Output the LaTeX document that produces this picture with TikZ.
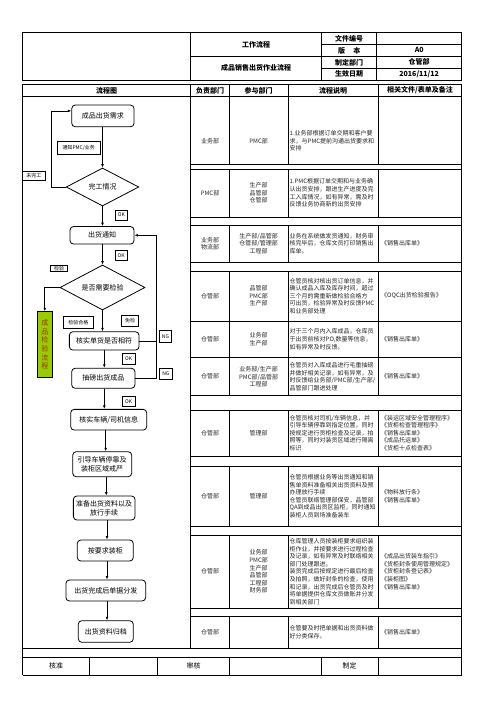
\documentclass[tikz,border=0pt]{standalone}
\usepackage{fontspec}
\setmainfont{Noto Sans CJK SC}
\usetikzlibrary{arrows.meta,shapes.geometric}
\definecolor{qcgreen}{RGB}{153,204,0}
\definecolor{qcred}{RGB}{160,50,0}
\begin{document}
\begin{tikzpicture}[x=1pt,y=-1pt]
\tikzset{
 fbox/.style={draw, line width=0.8pt, rounded corners=3.5pt, align=center, inner sep=0pt, font=\fontsize{7pt}{9pt}\selectfont},
 dmd/.style={draw, diamond, line width=0.8pt, inner sep=0pt, aspect=2, font=\fontsize{7pt}{9pt}\selectfont},
 lbl/.style={draw, line width=0.6pt, fill=white, inner sep=0pt, font=\fontsize{5pt}{6pt}\selectfont},
 arr/.style={line width=0.7pt, -{Latex[length=3.5pt,width=2.8pt]}},
 ln/.style={line width=0.7pt},
 tb/.style={line width=0.8pt},
 cell/.style={inner sep=0pt, align=center, font=\fontsize{6pt}{7.6pt}\selectfont, text=black!85},
 desc/.style={inner sep=0pt, align=left, anchor=west, font=\fontsize{6pt}{7.6pt}\selectfont, text=black!85},
 hd/.style={inner sep=0pt, font=\bfseries\fontsize{7pt}{8pt}\selectfont},
 ft/.style={inner sep=0pt, font=\fontsize{7pt}{8pt}\selectfont},
}
\useasboundingbox[fill=white] (0,0) rectangle (496,702);

% ---------- top header table ----------
\draw[tb] (22.7,32.7) rectangle (461.7,80);
\draw[tb] (190.7,32.7) -- (190.7,80) (321.7,32.7) -- (321.7,80) (376.7,32.7) -- (376.7,80);
\draw[tb] (190.7,56.35) -- (461.7,56.35);
\draw[tb] (321.7,44.5) -- (461.7,44.5) (321.7,68.2) -- (461.7,68.2);
\node[hd] (h1) at (256.2,44.5) {工作流程};
\node[hd] (h2) at (256.2,68.2) {成品销售出货作业流程};
\node[hd] (h3) at (349.2,38.6) {文件编号};
\node[hd] (h4) at (349.2,50.4) {版\hspace{1.2em}本};
\node[hd] (h5) at (349.2,62.3) {制定部门};
\node[hd] (h6) at (349.2,74.1) {生效日期};
\node[hd] (h7) at (419.2,50.4) {A0};
\node[hd] (h8) at (419.2,62.3) {仓管部};
\node[hd] (h9) at (419.2,74.1) {2016/11/12};

% ---------- column header ----------
\draw[tb] (22.7,84) rectangle (461.7,96.7);
\draw[tb] (190.7,84) -- (190.7,96.7) (229.3,84) -- (229.3,96.7) (288,84) -- (288,96.7) (378.3,84) -- (378.3,96.7);
\node[hd] (c1) at (106.7,90.4) {流程图};
\node[hd] (c2) at (210,90.4) {负责部门};
\node[hd] (c3) at (258.6,90.4) {参与部门};
\node[hd] (c4) at (333.1,90.4) {流程说明};
\node[hd] (c5) at (420,90.4) {相关文件/表单及备注};

% ---------- main body frame ----------
\draw[tb] (22.7,96.7) -- (22.7,675) (461.7,96.7) -- (461.7,675);
\draw[tb] (190.7,96.7) -- (190.7,648);
\draw[tb] (22.7,648) -- (461.7,648);
% rows (top,bottom)
\foreach \a/\b in {96.7/164,169/217.3,225/262.3,271/321,321/357.7,357.7/395.7,410/456,466/526.7,535/608.3,616.7/648}{
  \draw[tb] (190.7,\a) -- (461.7,\a) (190.7,\b) -- (461.7,\b);
  \draw[tb] (229.3,\a) -- (229.3,\b) (288,\a) -- (288,\b) (378.3,\a) -- (378.3,\b);
}
% footer
\draw[tb] (22.7,657.3) -- (461.7,657.3) (22.7,675) -- (461.7,675);
\draw[tb] (89.3,657.3) -- (89.3,675) (157.7,657.3) -- (157.7,675) (229.3,657.3) -- (229.3,675) (321,657.3) -- (321,675) (378.3,657.3) -- (378.3,675);
\node[ft] (f1) at (56,666.2) {核准};
\node[ft] (f2) at (193.5,666.2) {审核};
\node[ft] (f3) at (349.7,666.2) {制定};

% ---------- table contents ----------
% R1
\node[cell] (r1a) at (210,141) {业务部};
\node[cell] (r1b) at (258.6,141) {PMC部};
\node[desc] (r1c) at (289.5,141) {1.业务部根据订单交期和客户要\\求，与PMC提前沟通出货要求和\\安排};
% R2
\node[cell] (r2a) at (210,193) {PMC部};
\node[cell] (r2b) at (258.6,193) {生产部\\品管部\\仓管部};
\node[desc] (r2c) at (289.5,193) {1.PMC根据订单交期和与业务确\\认出货安排，跟进生产进度及完\\工入库情况，如有异常，需及时\\反馈业务协商新的出货安排};
% R3
\node[cell] (r3a) at (210,243.6) {业务部\\物流部};
\node[cell] (r3b) at (258.6,243.6) {生产部/品管部\\仓管部/管理部\\工程部};
\node[desc] (r3c) at (289.5,243.6) {业务在系统做发货通知，财务审\\核完毕后，仓库文员打印销售出\\库单。};
\node[desc] (r3d) at (381,243.6) {《销售出库单》};
% R4
\node[cell] (r4a) at (210,296) {仓管部};
\node[cell] (r4b) at (258.6,296) {品管部\\PMC部\\生产部};
\node[desc] (r4c) at (289.5,296) {仓管员核对核出货订单信息，并\\确认成品入库及库存时间，超过\\三个月的需重新做检验合格方\\可出货，检验异常及时反馈PMC\\和业务部处理};
\node[desc] (r4d) at (381,296) {《OQC出货检验报告》};
% R5
\node[cell] (r5a) at (210,339.3) {仓管部};
\node[cell] (r5b) at (258.6,339.3) {业务部\\生产部};
\node[desc] (r5c) at (289.5,339.3) {对于三个月内入库成品，仓库员\\于出货前核对PO,数量等信息，\\如有异常及时反馈。};
\node[desc] (r5d) at (381,339.3) {《销售出库单》};
% R6
\node[cell] (r6a) at (210,376.7) {仓管部};
\node[cell] (r6b) at (258.6,376.7) {业务部/生产部\\PMC部/品管部\\工程部};
\node[desc] (r6c) at (289.5,376.7) {仓管员对入库成品进行毛重抽磅\\并做好相关记录，如有异常，及\\时反馈给业务部/PMC部/生产部/\\品管部门跟进处理};
\node[desc] (r6d) at (381,376.7) {《销售出库单》};
% R7
\node[cell] (r7a) at (210,433) {仓管部};
\node[cell] (r7b) at (258.6,433) {管理部};
\node[desc] (r7c) at (289.5,433) {仓管员核对司机/车辆信息，并\\引导车辆停靠到指定位置，同时\\按规定进行货柜检查及记录，拍\\照等，同时对装货区域进行隔离\\标识};
\node[desc] (r7d) at (381,433) {《装运区域安全管理程序》\\《货柜检查管理程序》\\《销售出库单》\\《成品托运单》\\《货柜十点检查表》};
% R8
\node[cell] (r8a) at (210,496.3) {仓管部};
\node[cell] (r8b) at (258.6,496.3) {管理部};
\node[desc] (r8c) at (289.5,496.3) {仓管员根据业务等出货通知和销\\售单资料准备相关出货资料及预\\办理放行手续\\仓管员联络管理部保安，品管部\\QA到成品出货区监柜，同时通知\\装柜人员到场准备装车};
\node[desc] (r8d) at (381,496.3) {《物料放行条》\\《销售出库单》};
% R9
\node[cell] (r9a) at (210,571.6) {仓管部};
\node[cell] (r9b) at (258.6,571.6) {业务部\\PMC部\\生产部\\品管部\\工程部\\财务部};
\node[desc] (r9c) at (289.5,571.6) {仓库管理人员按装柜要求组织装\\柜作业，并按要求进行过程检查\\及记录，如有异常及时联络相关\\部门处理跟进。\\装货完成后按规定进行最后检查\\及拍照，做好封条的检查，使用\\和记录，出货完成后仓管员及时\\将单据提供仓库文员做账并分发\\到相关部门};
\node[desc] (r9d) at (381,571.6) {《成品出货装车指引》\\《货柜封条使用管理规定》\\《货柜封条登记表》\\《装柜图》\\《销售出库单》};
% R10
\node[cell] (r10a) at (210,632.3) {仓管部};
\node[desc] (r10c) at (289.5,632.3) {仓管要及时把单据和出货资料做\\好分类保存。};
\node[desc] (r10d) at (381,632.3) {《销售出库单》};

% ---------- flowchart ----------
\node[fbox, minimum width=62.3pt, minimum height=21.7pt] (req) at (102.9,115.9) {成品出货需求};
\node[dmd, minimum width=72.6pt, minimum height=38pt] (d1) at (102.5,187) {完工情况};
\node[fbox, minimum width=64pt, minimum height=17.5pt] (notice) at (102,235.3) {出货通知};
\node[dmd, minimum width=85pt, minimum height=45pt] (d2) at (102.5,287.5) {是否需要检验};
\node[fbox, minimum width=69.7pt, minimum height=18.3pt] (check) at (104.2,340.9) {核实单货是否相符};
\node[fbox, minimum width=63.3pt, minimum height=20pt] (weigh) at (103.3,378.3) {抽磅出货成品};
\node[fbox, minimum width=76pt, minimum height=20.7pt] (veh) at (108.7,419.7) {核实车辆/司机信息};
\node[fbox, minimum width=59pt, minimum height=25pt] (guide) at (102.2,464.2) {引导车辆停靠及\\装柜区域戒严};
\node[fbox, minimum width=61.7pt, minimum height=24pt] (prep) at (104.2,508) {准备出货资料以及\\放行手续};
\node[fbox, minimum width=56pt, minimum height=21pt] (load) at (105.3,550.5) {按要求装柜};
\node[fbox, minimum width=79.7pt, minimum height=21pt] (dist) at (105.8,590.5) {出货完成后单据分发};
\node[fbox, minimum width=55pt, minimum height=21.6pt] (arch) at (105.8,631.5) {出货资料归档};
\node[draw, line width=0.8pt, fill=qcgreen, text=qcred, inner sep=0pt, minimum width=15pt, minimum height=65.6pt, align=center, font=\fontsize{7pt}{8.7pt}\selectfont] (green) at (44.8,344.5) {成\\品\\检\\验\\流\\程};

\coordinate (lx) at (51.7,0);
\coordinate (ngx) at (156.7,0);
\coordinate (xc) at (104.3,0);
\coordinate (xd) at (105.7,0);
\coordinate (xe) at (106.3,0);
\coordinate (xf) at (107,0);

\draw[arr] (req.south -| d1.north) -- (d1.north);
\draw[arr] (d1.south) -- (d1.south |- notice.north);
\draw[arr] (notice.south -| d2.north) -- (d2.north);
\draw[arr] (d2.south) -- (d2.south |- check.north);
\draw[arr] (check.south -| xc) -- (weigh.north -| xc);
\draw[arr] (weigh.south -| xc) -- (veh.north -| xc);
\draw[arr] (veh.south -| xd) -- (guide.north -| xd);
\draw[arr] (guide.south -| xe) -- (prep.north -| xe);
\draw[arr] (prep.south -| xf) -- (load.north -| xf);
\draw[arr] (load.south -| xf) -- (dist.north -| xf);
\draw[arr] (dist.south -| xf) -- (arch.north -| xf);
\draw[arr] (d1.west) -- (d1.west -| lx) |- ([yshift=5pt]req.west);
\draw[arr] (d2.west) -| (green.north);
\draw[ln] (check.east) -- (check.east -| ngx);
\draw[arr] (weigh.east) -- (weigh.east -| ngx) |- (notice.east);

% labels
\node[lbl, minimum width=42.7pt, minimum height=13pt] (l1) at (78.7,147.5) {通知PMC/业务};
\node[lbl, minimum width=22.3pt, minimum height=8.3pt] (l2) at (33.9,175.9) {未完工};
\node[lbl, minimum width=12.7pt, minimum height=10pt] (ok1) at (121.3,215) {OK};
\node[lbl, minimum width=12.3pt, minimum height=10.7pt] (ok2) at (121.2,255.3) {OK};
\node[lbl, minimum width=16.6pt, minimum height=6.7pt] (l3) at (59,268.3) {检验};
\node[lbl, minimum width=30pt, minimum height=12.3pt] (l4) at (78.3,322.2) {检验合格};
\node[lbl, minimum width=16.6pt, minimum height=11.7pt] (l5) at (130,320.8) {免检};
\node[lbl, minimum width=12.4pt, minimum height=12pt] (ng1) at (165.5,336.7) {NG};
\node[lbl, minimum width=12.7pt, minimum height=10.7pt] (ok3) at (128.7,358.7) {OK};
\node[lbl, minimum width=13pt, minimum height=11pt] (ng2) at (165.8,373.8) {NG};
\node[lbl, minimum width=12.7pt, minimum height=9.3pt] (ok4) at (128.7,401.3) {OK};
\end{tikzpicture}
\end{document}
